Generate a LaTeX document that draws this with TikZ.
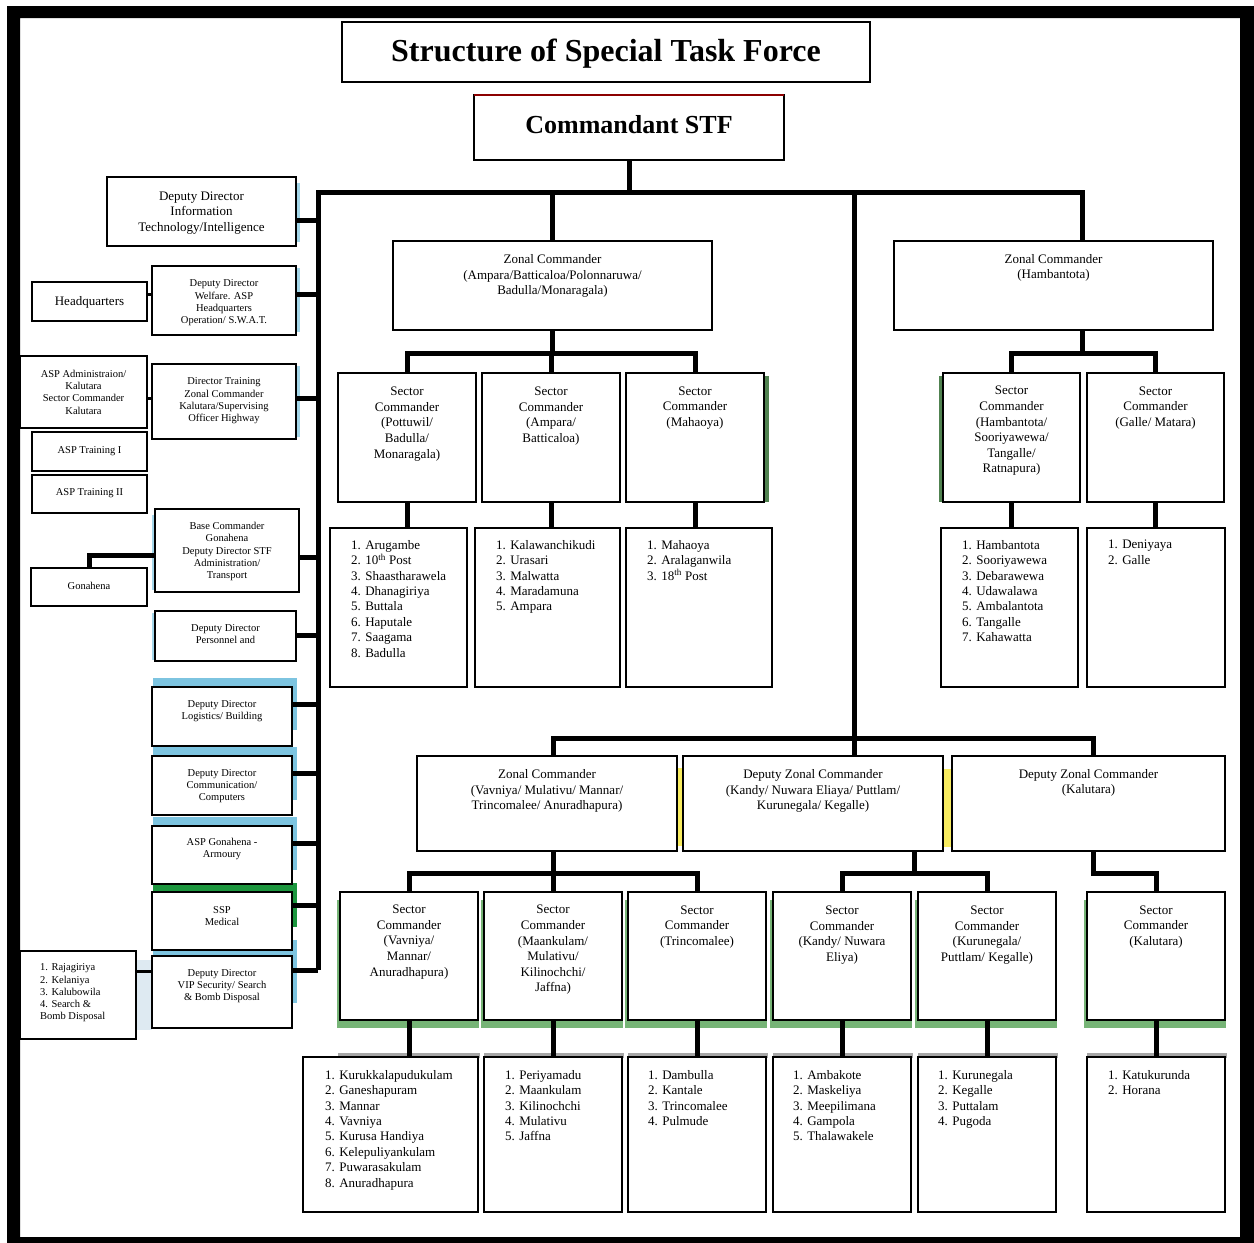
\documentclass[tikz,border=0pt]{standalone}
\usepackage{fontspec}
\setmainfont{Liberation Serif}
\definecolor{sblue}{RGB}{125,196,224}
\definecolor{sgreen}{RGB}{28,150,62}
\definecolor{lgreen}{RGB}{118,180,118}
\definecolor{dgreen}{RGB}{80,130,80}
\definecolor{spale}{RGB}{222,234,242}
\definecolor{syel}{RGB}{248,236,96}
\tikzset{
  obox/.style={draw, line width=2.2pt, fill=white, inner sep=0pt, outer sep=0pt},
  conn/.style={line width=5pt, line join=miter},
  tb/.style={font=\fontsize{13}{15.6}\selectfont, align=center, inner sep=0pt},
  ts/.style={font=\fontsize{10.5}{12.3}\selectfont, align=center, inner sep=0pt},
  tl/.style={font=\fontsize{13}{15.4}\selectfont, align=left, inner sep=0pt, anchor=north west},
}
\newcommand\bx[8][tb]{%
  \pgfmathsetmacro\bw{#5-#3}%
  \pgfmathsetmacro\bh{#6-#4}%
  \pgfmathsetmacro\bcx{(#3+#5)/2}%
  \node[obox,minimum width=\bw pt,minimum height=\bh pt,anchor=north west] (#2) at (#3,#4) {};%
  \node[#1] (#2t) at (\bcx,#7) {#8};%
}
\newcommand\lbx[8]{%
  \pgfmathsetmacro\bw{#4-#2}%
  \pgfmathsetmacro\bh{#5-#3}%
  \node[obox,minimum width=\bw pt,minimum height=\bh pt,anchor=north west] (#1) at (#2,#3) {};%
  \node[tl] (#1t) at (#6,#7) {#8};%
}
\newcommand\sbranch[2]{%
  \path ([yshift=#2]#1.east) coordinate (#1br);%
  \draw[conn] (#1br) -- (#1br -| spT);%
}
\begin{document}
\begin{tikzpicture}[x=1pt,y=-1pt]
\useasboundingbox (0,0) rectangle (1254,1243);
% outer frame
\fill[even odd rule] (7,6) rectangle (1256,1246) (20,18) rectangle (1240,1237);

% decorative shading behind boxes
\fill[sblue] (153,678) rectangle (297,730);
\fill[sblue] (153,747) rectangle (297,800);
\fill[sblue] (153,817) rectangle (297,870);
\fill[sgreen] (153,883) rectangle (297,927);
\fill[sblue] (153,940) rectangle (297,1003);
\fill[spale] (136,960) rectangle (152,1030);
\fill[sblue!70] (296,183) rectangle (300,242);
\fill[sblue!70] (296,268) rectangle (300,332);
\fill[sblue!70] (296,366) rectangle (300,437);
\fill[sblue!70] (152,515) rectangle (156,590);
\fill[sblue!70] (152,613) rectangle (156,660);
\fill[syel] (676,768) rectangle (684,846);
\fill[syel] (942,769) rectangle (952,847);
\fill[dgreen] (763,376) rectangle (769,502);
\fill[dgreen] (939,376) rectangle (944,502);
\foreach \a/\b in {340/478,484/622,628/766,773/911,918/1056,1087/1225}
  \fill[lgreen] (\a-3,900) rectangle (\b+1,1028);
\foreach \a/\b in {338/478,484/622,628/766,773/911,918/1056,1087/1225}
  \fill[black!35] (\a,1053) rectangle (\b+2,1058);

% title and commandant
\bx[font=\fontsize{32}{38}\selectfont\bfseries, inner sep=0pt]{title}{342}{22}{870}{82}{54}{Structure of Special Task Force}
\bx[font=\fontsize{26}{31}\selectfont\bfseries, inner sep=0pt]{cmd}{474}{95}{784}{160}{125}{Commandant STF}

% left column
\bx{it}{107}{177}{296}{246}{213}{Deputy Director\\Information\\Technology/Intelligence}
\bx{hq}{32}{282}{147}{321}{302}{Headquarters}
\bx[ts]{wel}{152}{266}{296}{335}{303}{Deputy Director\\Welfare. ASP\\Headquarters\\Operation/ S.W.A.T.}
\bx[ts]{aspa}{20}{356}{147}{428}{392}{ASP Administraion/\\Kalutara\\Sector Commander\\Kalutara}
\bx[ts]{dtr}{152}{364}{296}{439}{401}{Director Training\\Zonal Commander\\Kalutara/Supervising\\Officer Highway}
\bx[ts]{atr1}{32}{432}{147}{471}{451}{ASP Training I}
\bx[ts]{atr2}{32}{475}{147}{513}{493}{ASP Training II}
\bx[ts]{base}{155}{509}{299}{592}{551.5}{Base Commander\\Gonahena\\Deputy Director STF\\Administration/\\Transport}
\bx[ts]{gon}{31}{568}{147}{606}{586}{Gonahena}
\bx[ts]{pers}{155}{611}{296}{661}{634}{Deputy Director\\Personnel and}
\bx[ts]{logi}{152}{687}{292}{746}{711}{Deputy Director\\Logistics/ Building}
\bx[ts]{comm}{152}{756}{292}{815}{786}{Deputy Director\\Communication/\\Computers}
\bx[ts]{arm}{152}{826}{292}{884}{849}{ASP Gonahena -\\Armoury}
\bx[ts]{ssp}{152}{892}{292}{950}{916}{SSP\\Medical}
\bx[ts]{vip}{152}{956}{292}{1028}{986}{Deputy Director\\VIP Security/ Search\\\& Bomb Disposal}
\node[obox,minimum width=116pt,minimum height=88pt,anchor=north west] (raj) at (20,951) {};
\node[ts,align=left,anchor=west] (rajt) at (40,993) {1. Rajagiriya\\2. Kelaniya\\3. Kalubowila\\4. Search \&\\Bomb Disposal};

% upper middle
\bx{za}{393}{241}{712}{330}{276}{Zonal Commander\\(Ampara/Batticaloa/Polonnaruwa/\\Badulla/Monaragala)}
\bx{s1}{338}{373}{476}{502}{424}{Sector\\Commander\\(Pottuwil/\\Badulla/\\Monaragala)}
\bx{s2}{482}{373}{620}{502}{416}{Sector\\Commander\\(Ampara/\\Batticaloa)}
\bx{s3}{626}{373}{764}{502}{408}{Sector\\Commander\\(Mahaoya)}
\lbx{l1}{330}{528}{467}{687}{351}{540}{1. Arugambe\\2. 10\textsuperscript{th} Post\\3. Shaastharawela\\4. Dhanagiriya\\5. Buttala\\6. Haputale\\7. Saagama\\8. Badulla}
\lbx{l2}{475}{528}{620}{687}{496}{540}{1. Kalawanchikudi\\2. Urasari\\3. Malwatta\\4. Maradamuna\\5. Ampara}
\lbx{l3}{626}{528}{772}{687}{647}{540}{1. Mahaoya\\2. Aralaganwila\\3. 18\textsuperscript{th} Post}

% upper right
\bx{zh}{894}{241}{1213}{330}{268}{Zonal Commander\\(Hambantota)}
\bx{s4}{943}{373}{1080}{502}{431}{Sector\\Commander\\(Hambantota/\\Sooriyawewa/\\Tangalle/\\Ratnapura)}
\bx{s5}{1087}{373}{1224}{502}{408}{Sector\\Commander\\(Galle/ Matara)}
\lbx{l4}{941}{528}{1078}{687}{962}{540}{1. Hambantota\\2. Sooriyawewa\\3. Debarawewa\\4. Udawalawa\\5. Ambalantota\\6. Tangalle\\7. Kahawatta}
\lbx{l5}{1087}{528}{1225}{687}{1108}{540}{1. Deniyaya\\2. Galle}

% lower part
\bx{zv}{417}{756}{677}{851}{791}{Zonal Commander\\(Vavniya/ Mulativu/ Mannar/\\Trincomalee/ Anuradhapura)}
\bx{dk}{683}{756}{943}{851}{791}{Deputy Zonal Commander\\(Kandy/ Nuwara Eliaya/ Puttlam/\\Kurunegala/ Kegalle)}
\bx{dkal}{952}{756}{1225}{851}{783}{Deputy Zonal Commander\\(Kalutara)}
\bx{t1}{340}{892}{478}{1020}{942}{Sector\\Commander\\(Vavniya/\\Mannar/\\Anuradhapura)}
\bx{t2}{484}{892}{622}{1020}{950}{Sector\\Commander\\(Maankulam/\\Mulativu/\\Kilinochchi/\\Jaffna)}
\bx{t3}{628}{892}{766}{1020}{927}{Sector\\Commander\\(Trincomalee)}
\bx{t4}{773}{892}{911}{1020}{935}{Sector\\Commander\\(Kandy/ Nuwara\\Eliya)}
\bx{t5}{918}{892}{1056}{1020}{935}{Sector\\Commander\\(Kurunegala/\\Puttlam/ Kegalle)}
\bx{t6}{1087}{892}{1225}{1020}{927}{Sector\\Commander\\(Kalutara)}
\lbx{m1}{303}{1057}{478}{1212}{325}{1070}{1. Kurukkalapudukulam\\2. Ganeshapuram\\3. Mannar\\4. Vavniya\\5. Kurusa Handiya\\6. Kelepuliyankulam\\7. Puwarasakulam\\8. Anuradhapura}
\lbx{m2}{484}{1057}{622}{1212}{505}{1070}{1. Periyamadu\\2. Maankulam\\3. Kilinochchi\\4. Mulativu\\5. Jaffna}
\lbx{m3}{628}{1057}{766}{1212}{648}{1070}{1. Dambulla\\2. Kantale\\3. Trincomalee\\4. Pulmude}
\lbx{m4}{773}{1057}{911}{1212}{793}{1070}{1. Ambakote\\2. Maskeliya\\3. Meepilimana\\4. Gampola\\5. Thalawakele}
\lbx{m5}{918}{1057}{1056}{1212}{938}{1070}{1. Kurunegala\\2. Kegalle\\3. Puttalam\\4. Pugoda}
\lbx{m6}{1087}{1057}{1225}{1212}{1108}{1070}{1. Katukurunda\\2. Horana}

\draw[red!55!black, line width=1.5pt] (cmd.north west) -- (cmd.north east);

% connectors
\coordinate (spT) at (318,192);
\coordinate (spB) at (318,970);
\coordinate (mT) at (854,192);
\coordinate (mB) at (854,738);
\coordinate (zhn) at ([xshift=28.5pt]zh.north);
\coordinate (zhs) at ([xshift=28.5pt]zh.south);
\draw[conn] (spB) -- (spT) -| (zhn);
\draw[conn] (cmd.south) -- (cmd.south |- spT);
\draw[conn] (za.north) -- (za.north |- spT);
\draw[conn] (mT) -- (mB);

\sbranch{it}{-8.5pt}
\sbranch{wel}{6.5pt}
\sbranch{dtr}{3.5pt}
\sbranch{base}{-6.5pt}
\sbranch{pers}{1pt}
\sbranch{logi}{12.5pt}
\sbranch{comm}{12.5pt}
\sbranch{arm}{12pt}
\sbranch{ssp}{16pt}
\sbranch{vip}{22pt}

\path ([yshift=-4.5pt]base.west) coordinate (gb);
\draw[conn] (gb) -| (gon.north);
\path ([yshift=7.5pt]hq.east) coordinate (hqe);
\draw[line width=3pt] (hqe) -- (hqe -| wel.west);
\path ([yshift=-6pt]aspa.east) coordinate (aspe);
\draw[line width=3pt] (aspe) -- (aspe -| dtr.west);
\path ([yshift=24pt]raj.east) coordinate (raje);
\draw[line width=3pt] (raje) -- (raje -| vip.west);

% zonal Ampara tree
\coordinate (zab) at (552,353);
\draw[conn] (za.south) -- (za.south |- zab);
\draw[conn] (s1.north) |- (zab) -| (s3.north);
\draw[conn] (s2.north) -- (s2.north |- zab);
\foreach \s/\l in {s1/l1,s2/l2,s3/l3,s4/l4,s5/l5}
  \draw[conn] (\s.south) -- (\s.south |- \l.north);

% zonal Hambantota tree
\coordinate (zhb) at (1082,353);
\draw[conn] (zhs) -- (zhb);
\draw[conn] (s4.north) |- (zhb) -| (s5.north);

% lower trees
\coordinate (zvn) at ([xshift=6pt]zv.north);
\coordinate (dkln) at ([xshift=4.5pt]dkal.north);
\draw[conn] (zvn) |- (mB) -| (dkln);
\draw[conn] (mB) -- (mB |- dk.north);
\coordinate (zvs) at ([xshift=6pt]zv.south);
\coordinate (zvb) at (553,873);
\draw[conn] (zvs) -- (zvb);
\draw[conn] (t1.north) |- (zvb) -| (t3.north);
\draw[conn] (t2.north) -- (t2.north |- zvb);
\coordinate (dks) at ([xshift=101pt]dk.south);
\coordinate (dkb) at (914,873);
\draw[conn] (dks) -- (dkb);
\draw[conn] (t4.north) |- (dkb) -| (t5.north);
\coordinate (dkls) at ([xshift=4.5pt]dkal.south);
\draw[conn] (dkls) |- (t6.north |- dkb) -- (t6.north);
\foreach \s/\l in {t1/m1,t2/m2,t3/m3,t4/m4,t5/m5,t6/m6}
  \draw[conn] (\s.south) -- (\s.south |- \l.north);
\end{tikzpicture}
\end{document}
